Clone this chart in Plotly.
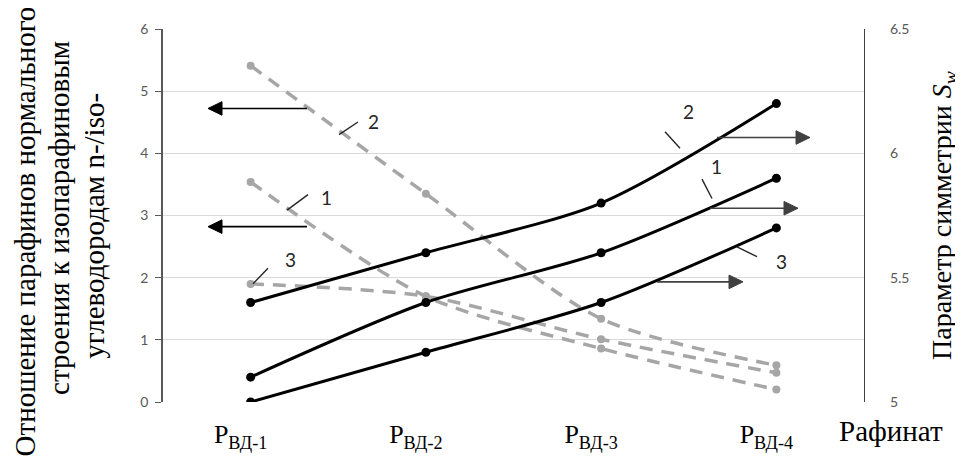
import plotly.graph_objects as go

# ---------------- data ----------------
categories = ["Р<sub>ВД-1</sub>", "Р<sub>ВД-2</sub>", "Р<sub>ВД-3</sub>", "Р<sub>ВД-4</sub>"]
x_idx = [0, 1, 2, 3]

# n-/iso- ratio (left axis, grey dashed)
ratio_1 = [3.54, 1.70, 0.86, 0.20]
ratio_2 = [5.41, 3.35, 1.34, 0.59]
ratio_3 = [1.90, 1.70, 1.01, 0.47]

# symmetry parameter Sw (right axis, black solid)
sw_1 = [5.10, 5.40, 5.60, 5.90]
sw_2 = [5.40, 5.60, 5.80, 6.20]
sw_3 = [5.00, 5.20, 5.40, 5.70]

left_ticks = [0, 1, 2, 3, 4, 5, 6]
right_ticks = [5, 5.5, 6, 6.5]

# ---------------- layout helpers ----------------
# page body has an 8px default margin: figure is placed at (8, 8) in the window
OFF = 8
W, H = 963 - OFF, 465 - OFF
PL, PR, PT, PB = 163, 864, 25, 410          # plot area in window pixels
L, R, T, B = PL - OFF, W - (PR - OFF), PT - OFF, H - (PB - OFF)
PW, PH = PR - PL, PB - PT


def px(x):
    return (x - PL) / PW


def py(y):
    return (PB - y) / PH


fig = go.Figure()

grey = "#a6a6a6"
for vals in (ratio_1, ratio_2, ratio_3):
    fig.add_trace(go.Scatter(
        x=x_idx, y=vals, mode="lines+markers", yaxis="y",
        line=dict(color=grey, width=3.5, dash="13px,9px", shape="spline", smoothing=0.8),
        marker=dict(color=grey, size=8), showlegend=False, hoverinfo="skip"))

for vals in (sw_1, sw_2, sw_3):
    fig.add_trace(go.Scatter(
        x=x_idx, y=vals, mode="lines+markers", yaxis="y2",
        line=dict(color="#000000", width=3, shape="spline", smoothing=0.8),
        marker=dict(color="#000000", size=9), showlegend=False, hoverinfo="skip"))

tick_font = dict(family="Lato, Open Sans, sans-serif", size=14, color="#595959")
serif = "Liberation Serif, Times New Roman, serif"

fig.update_layout(
    width=W, height=H,
    margin=dict(l=L, r=R, t=T, b=B, pad=0),
    plot_bgcolor="white", paper_bgcolor="white",
    xaxis=dict(range=[-0.5, 3.5], tickmode="array", tickvals=x_idx, ticktext=categories,
               showgrid=False, showline=False, zeroline=False,
               ticks="outside", ticklen=9, tickcolor="rgba(0,0,0,0)",
               tickfont=dict(family=serif, size=26, color="#000000"),
               ticklabelshift=-10),
    yaxis=dict(range=[0, 6], tickmode="array", tickvals=left_ticks,
               showgrid=True, gridcolor="#d9d9d9", gridwidth=1.2,
               showline=True, linecolor="#595959", linewidth=1.5,
               ticks="outside", ticklen=6, tickcolor="#595959", tickwidth=1.2,
               tickfont=tick_font, zeroline=False, ticklabelstandoff=4),
    yaxis2=dict(range=[5, 6.5], tickmode="array", tickvals=right_ticks,
                overlaying="y", side="right", showgrid=False, zeroline=False,
                showline=True, linecolor="#404040", linewidth=1.2,
                ticks="outside", ticklen=22, tickcolor="rgba(0,0,0,0)",
                tickfont=tick_font),
    yaxis3=dict(range=[0, 6], tickmode="array", tickvals=left_ticks,
                overlaying="y", side="left", showgrid=False, zeroline=False,
                showline=False, ticks="inside", ticklen=5, tickcolor="#595959",
                tickwidth=1.2, showticklabels=False),
)

annotations = []
shapes = []

title_font = dict(family=serif, size=29, color="#000000")
# left axis title, one annotation per line (line centres measured)
left_title = [
    ("Отношение парафинов нормального", 25, 234),
    ("строения к изопарафиновым", 59, 220),
    ("углеводородам n-/iso-", 94, 228),
]
for txt, cx, cy in left_title:
    annotations.append(dict(
        text=txt, xref="paper", yref="paper", x=px(cx), y=py(cy),
        xanchor="center", yanchor="middle", textangle=-90, showarrow=False,
        font=title_font))
annotations.append(dict(
    text="Параметр симметрии <i>S<sub>w</sub></i>",
    xref="paper", yref="paper", x=px(944), y=py(218), xanchor="center", yanchor="middle",
    textangle=-90, showarrow=False, font=dict(family=serif, size=28, color="#000000")))
annotations.append(dict(
    text="Рафинат", xref="paper", yref="paper", x=px(891), y=py(440),
    xanchor="center", yanchor="middle", showarrow=False, font=title_font))

# arrows drawn as shapes: head (x, y), tail x, colour
arrows = [
    ((208, 107), 307, "#000000"),
    ((208, 229), 307, "#000000"),
    ((810, 137), 717, "#404040"),
    ((798, 210), 710, "#404040"),
    ((743, 286), 657, "#404040"),
]
HEAD_L, HEAD_W = 14, 7
for (hx, hy), tx, col in arrows:
    d = 1 if hx > tx else -1
    bx = hx - d * HEAD_L
    shapes.append(dict(type="line", xref="paper", yref="paper",
                       x0=px(tx), y0=py(hy), x1=px(bx), y1=py(hy),
                       line=dict(color=col, width=1.6)))
    path = "M {} {} L {} {} L {} {} Z".format(
        px(hx), py(hy), px(bx), py(hy - HEAD_W), px(bx), py(hy + HEAD_W))
    shapes.append(dict(type="path", xref="paper", yref="paper", path=path,
                       fillcolor=col, line=dict(color=col, width=1)))

# series labels: leader (x0,y0,x1,y1) and text position
labels = [
    ("2", (339, 134, 358, 121), (373, 120)),
    ("1", (287, 212, 308, 196), (326, 199)),
    ("3", (253, 288, 268, 272), (290, 263)),
    ("2", (665, 131, 680, 148), (688, 110)),
    ("1", (702, 180, 712, 200), (716, 167)),
    ("3", (737, 250, 757, 260), (781, 265)),
]
for txt, (x0, y0, x1, y1), (tx, ty) in labels:
    shapes.append(dict(type="line", xref="paper", yref="paper",
                       x0=px(x0), y0=py(y0), x1=px(x1), y1=py(y1),
                       line=dict(color="#262626", width=1.4)))
    annotations.append(dict(
        text=txt, xref="paper", yref="paper", x=px(tx), y=py(ty),
        xanchor="center", yanchor="middle", showarrow=False,
        font=dict(family="Lato, Open Sans, sans-serif", size=19, color="#262626")))

fig.update_layout(annotations=annotations, shapes=shapes)

fig.write_html("out.html")
